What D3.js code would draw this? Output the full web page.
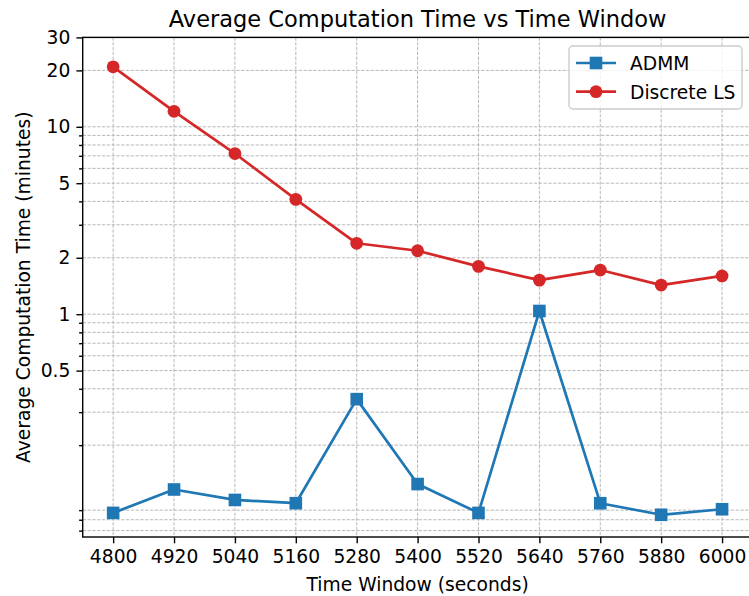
<!DOCTYPE html>
<html>
<head>
<meta charset="utf-8">
<script src="https://cdn.jsdelivr.net/npm/d3@7"></script>
<style>
  html, body { margin: 0; padding: 0; background: #fff; overflow: hidden; }
  svg { display: block; font-family: "DejaVu Sans", sans-serif; }
</style>
</head>
<body>
<script>
// Chart data
const timeWindows = [4800, 4920, 5040, 5160, 5280, 5400, 5520, 5640, 5760, 5880, 6000];
const admmTimes = [0.087, 0.116, 0.102, 0.098, 0.352, 0.124, 0.087, 1.04, 0.098, 0.085, 0.091];
const discreteTimes = [20.9, 12.1, 7.2, 4.1, 2.39, 2.18, 1.8, 1.52, 1.72, 1.43, 1.6];
const yMajorTicks = [0.5, 1, 2, 5, 10, 20, 30];
const yMinorTicks = [0.07, 0.08, 0.09, 0.2, 0.3, 0.4, 0.6, 0.7, 0.8, 0.9, 3, 4, 6, 7, 8, 9];

const W = 749, H = 596;
// plot area (right spine falls just past the window edge, as in the original)
const plotL = 82.7, plotR = 752.5, plotT = 37.4, plotB = 537;
const fontSize = "18.7px";

const svg = d3.select("body").append("svg")
    .attr("width", W)
    .attr("height", H);

const x = d3.scaleLinear().domain([4740, 6060]).range([plotL, plotR]);
const y = d3.scaleLog().domain([0.0647, 30]).range([plotB, plotT]);

const gridColor = "#b0b0b0";

// grid lines (major + minor)
const grid = svg.append("g");
grid.selectAll(".vgrid")
    .data(timeWindows)
    .enter().append("line")
    .attr("x1", d => x(d)).attr("x2", d => x(d))
    .attr("y1", plotT).attr("y2", plotB)
    .attr("stroke", gridColor).attr("stroke-width", 0.9)
    .attr("stroke-dasharray", "3.3,1.5");

grid.selectAll(".hgrid")
    .data(yMajorTicks.concat(yMinorTicks))
    .enter().append("line")
    .attr("x1", plotL).attr("x2", plotR)
    .attr("y1", d => y(d)).attr("y2", d => y(d))
    .attr("stroke", gridColor).attr("stroke-width", 0.9)
    .attr("stroke-dasharray", "3.3,1.5");

// series
const line = d3.line()
    .x((d, i) => x(timeWindows[i]))
    .y(d => y(d));

const series = [
    { name: "ADMM", values: admmTimes, color: "#1f77b4", marker: "square" },
    { name: "Discrete LS", values: discreteTimes, color: "#d62728", marker: "circle" }
];

series.forEach(s => {
    svg.append("path")
        .datum(s.values)
        .attr("d", line)
        .attr("fill", "none")
        .attr("stroke", s.color)
        .attr("stroke-width", 2.7)
        .attr("stroke-linejoin", "round");

    const g = svg.append("g");
    if (s.marker === "square") {
        g.selectAll("rect")
            .data(s.values)
            .enter().append("rect")
            .attr("x", (d, i) => x(timeWindows[i]) - 6.3)
            .attr("y", d => y(d) - 6.3)
            .attr("width", 12.6).attr("height", 12.6)
            .attr("fill", s.color);
    } else {
        g.selectAll("circle")
            .data(s.values)
            .enter().append("circle")
            .attr("cx", (d, i) => x(timeWindows[i]))
            .attr("cy", d => y(d))
            .attr("r", 6.4)
            .attr("fill", s.color);
    }
});

// spines
svg.append("rect")
    .attr("x", plotL).attr("y", plotT)
    .attr("width", plotR - plotL).attr("height", plotB - plotT)
    .attr("fill", "none")
    .attr("stroke", "#000").attr("stroke-width", 1.4);

// x axis
const xAxis = d3.axisBottom(x)
    .tickValues(timeWindows)
    .tickFormat(d3.format("d"))
    .tickSize(6.3)
    .tickPadding(6);
const xg = svg.append("g")
    .attr("transform", `translate(0,${plotB})`)
    .call(xAxis);

// y axis major
const yAxis = d3.axisLeft(y)
    .tickValues(yMajorTicks)
    .tickFormat(d => d < 1 ? d3.format(".1f")(d) : d3.format("d")(d))
    .tickSize(6.3)
    .tickPadding(6);
const yg = svg.append("g")
    .attr("transform", `translate(${plotL},0)`)
    .call(yAxis);

// y axis minor
const ym = svg.append("g")
    .attr("transform", `translate(${plotL},0)`)
    .call(d3.axisLeft(y).tickValues(yMinorTicks).tickFormat("").tickSize(3.6));

[xg, yg, ym].forEach(g => {
    g.select(".domain").remove();
    g.selectAll(".tick line").attr("stroke", "#000").attr("stroke-width", 1.4);
    g.selectAll(".tick text")
        .attr("fill", "#000")
        .style("font-family", "'DejaVu Sans', sans-serif")
        .style("font-size", fontSize);
});

// titles
svg.append("text")
    .attr("x", (plotL + plotR) / 2).attr("y", 27)
    .attr("text-anchor", "middle")
    .style("font-size", "22.5px")
    .text("Average Computation Time vs Time Window");

svg.append("text")
    .attr("x", (plotL + plotR) / 2).attr("y", 591)
    .attr("text-anchor", "middle")
    .style("font-size", fontSize)
    .text("Time Window (seconds)");

svg.append("text")
    .attr("transform", `translate(30,${(plotT + plotB) / 2}) rotate(-90)`)
    .attr("text-anchor", "middle")
    .style("font-size", fontSize)
    .text("Average Computation Time (minutes)");

// legend
const legend = svg.append("g").attr("transform", "translate(569,46)");
legend.append("rect")
    .attr("width", 173).attr("height", 63)
    .attr("rx", 4)
    .attr("fill", "#fff").attr("fill-opacity", 0.8)
    .attr("stroke", "#cccccc").attr("stroke-width", 1.4);

series.forEach((s, i) => {
    const ly = 17 + i * 28.7;
    legend.append("line")
        .attr("x1", 7).attr("x2", 47)
        .attr("y1", ly).attr("y2", ly)
        .attr("stroke", s.color).attr("stroke-width", 2.7);
    if (s.marker === "square") {
        legend.append("rect")
            .attr("x", 27 - 6.3).attr("y", ly - 6.3)
            .attr("width", 12.6).attr("height", 12.6)
            .attr("fill", s.color);
    } else {
        legend.append("circle")
            .attr("cx", 27).attr("cy", ly).attr("r", 6.4)
            .attr("fill", s.color);
    }
    legend.append("text")
        .attr("x", 61).attr("y", ly + 6.8)
        .style("font-size", fontSize)
        .text(s.name);
});
</script>
</body>
</html>
